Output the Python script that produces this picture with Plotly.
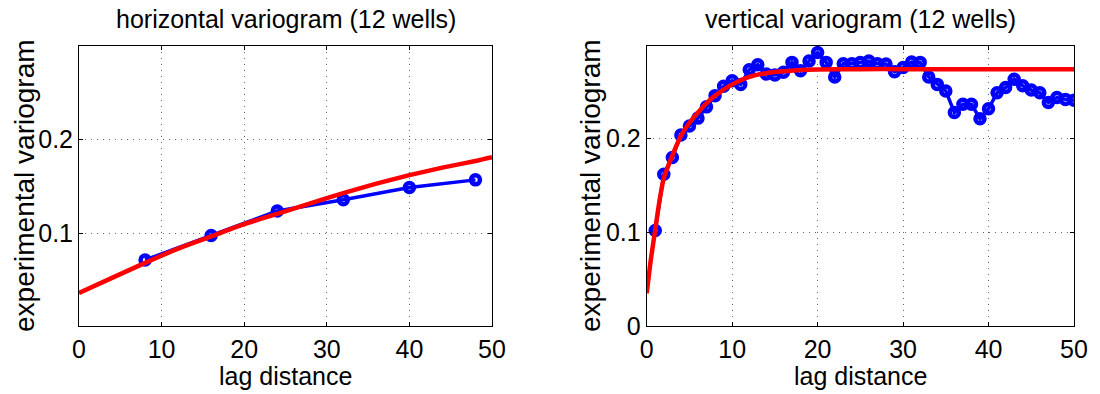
import plotly.graph_objects as go

# ---- horizontal variogram data ----
h_lag = [8, 16, 24, 32, 40, 48]
h_gamma = [0.072, 0.098, 0.124, 0.136, 0.149, 0.157]
h_model_lag = [0, 4, 8, 12, 16, 20, 24, 28, 32, 36, 40, 44, 48, 50]
h_model = [0.037, 0.053, 0.069, 0.084, 0.097, 0.110, 0.121, 0.132, 0.143, 0.153, 0.162, 0.170, 0.177, 0.181]

# ---- vertical variogram data ----
v_lag = list(range(1, 51))
v_gamma = [0.102, 0.162, 0.180, 0.204, 0.2135, 0.222, 0.234, 0.246, 0.256, 0.262,
           0.258, 0.2736, 0.279, 0.269, 0.268, 0.271, 0.2815, 0.2725, 0.283, 0.292,
           0.2815, 0.266, 0.280, 0.280, 0.2815, 0.283, 0.280, 0.2797, 0.2715, 0.276,
           0.282, 0.2815, 0.266, 0.258, 0.251, 0.228, 0.2368, 0.2368, 0.2214, 0.232,
           0.249, 0.2546, 0.2636, 0.2565, 0.252, 0.249, 0.2386, 0.244, 0.242, 0.241]
v_model_lag = [0, 0.5, 1, 1.5, 2, 3, 4, 5, 6, 7, 8, 10, 12, 14, 16, 18, 20, 25, 30, 40, 50]
v_model = [0.035, 0.072, 0.103, 0.134, 0.158, 0.182, 0.203, 0.217, 0.228, 0.238, 0.246,
           0.258, 0.266, 0.270, 0.272, 0.2735, 0.274, 0.2743, 0.2743, 0.2743, 0.2743]

titles = ["horizontal variogram (12 wells)", "vertical variogram (12 wells)"]
x_label = "lag distance"
y_label = "experimental variogram"
x_ticks = [0, 10, 20, 30, 40, 50]

W, H = 1100, 394
FONT = "Liberation Sans, Arial, Helvetica, sans-serif"

fig = go.Figure()

def px2x(p):
    return p / W

def px2y(p):
    return 1 - p / H

# panel pixel boxes
top, bottom = 46, 326
panels = [(79, 492), (646.7, 1074)]

for i, (lag, gam, mlag, mod) in enumerate([(h_lag, h_gamma, h_model_lag, h_model),
                                           (v_lag, v_gamma, v_model_lag, v_model)]):
    xa = "x" if i == 0 else "x2"
    ya = "y" if i == 0 else "y2"
    fig.add_trace(go.Scatter(
        x=lag, y=gam, mode="lines+markers", xaxis=xa, yaxis=ya,
        line=dict(color="#0000ff", width=3.5),
        marker=dict(symbol="circle-open", size=9, color="#0000ff",
                    line=dict(width=4.5, color="#0000ff")),
        showlegend=False, hoverinfo="skip"))
    fig.add_trace(go.Scatter(
        x=mlag, y=mod, mode="lines", xaxis=xa, yaxis=ya,
        line=dict(color="#ff0000", width=4.5, shape="spline", smoothing=0.6),
        showlegend=False, hoverinfo="skip"))

axis_common = dict(
    showline=True, linecolor="black", linewidth=1, mirror="ticks",
    ticks="inside", ticklen=4, tickcolor="black", tickwidth=1,
    showgrid=True, gridcolor="#666666", griddash="1px,5px", gridwidth=1,
    zeroline=False,
    tickfont=dict(family=FONT, size=25, color="black"),
)

layout = dict(
    width=W, height=H, margin=dict(l=0, r=0, t=0, b=0, autoexpand=False),
    paper_bgcolor="white", plot_bgcolor="white",
    font=dict(family=FONT, color="black"),
)

for i, (x0, x1) in enumerate(panels):
    xk = "xaxis" if i == 0 else "xaxis2"
    yk = "yaxis" if i == 0 else "yaxis2"
    anchor_x = "y" if i == 0 else "y2"
    anchor_y = "x" if i == 0 else "x2"
    layout[xk] = dict(axis_common, domain=[px2x(x0), px2x(x1)], range=[0, 50],
                      tickvals=x_ticks, anchor=anchor_x, ticklabelstandoff=1)
    if i == 0:
        layout[yk] = dict(axis_common, domain=[px2y(bottom), px2y(top)], range=[0.002, 0.299],
                          tickvals=[0.1, 0.2], ticktext=["0.1", "0.2"], anchor=anchor_y)
    else:
        layout[yk] = dict(axis_common, domain=[px2y(bottom), px2y(top)], range=[0, 0.299],
                          tickvals=[0, 0.1, 0.2], ticktext=["0", "0.1", "0.2"], anchor=anchor_y)

fig.update_layout(**layout)

annotations = []
for i, (x0, x1) in enumerate(panels):
    cx = (x0 + x1) / 2
    annotations.append(dict(text=titles[i], x=px2x(cx), y=px2y(19), xref="paper", yref="paper",
                            showarrow=False, xanchor="center", yanchor="middle",
                            font=dict(family=FONT, size=25, color="black")))
    annotations.append(dict(text=x_label, x=px2x(cx), y=px2y(376), xref="paper", yref="paper",
                            showarrow=False, xanchor="center", yanchor="middle",
                            font=dict(family=FONT, size=25, color="black")))
    ylab_x = 24 if i == 0 else 590
    annotations.append(dict(text=y_label, x=px2x(ylab_x), y=px2y(186), xref="paper", yref="paper",
                            showarrow=False, xanchor="center", yanchor="middle", textangle=-90,
                            font=dict(family=FONT, size=28, color="black")))
fig.update_layout(annotations=annotations)

fig.write_html("out.html", config={"displayModeBar": False},
               post_script="document.body.style.margin='0';document.body.style.overflow='hidden';")
